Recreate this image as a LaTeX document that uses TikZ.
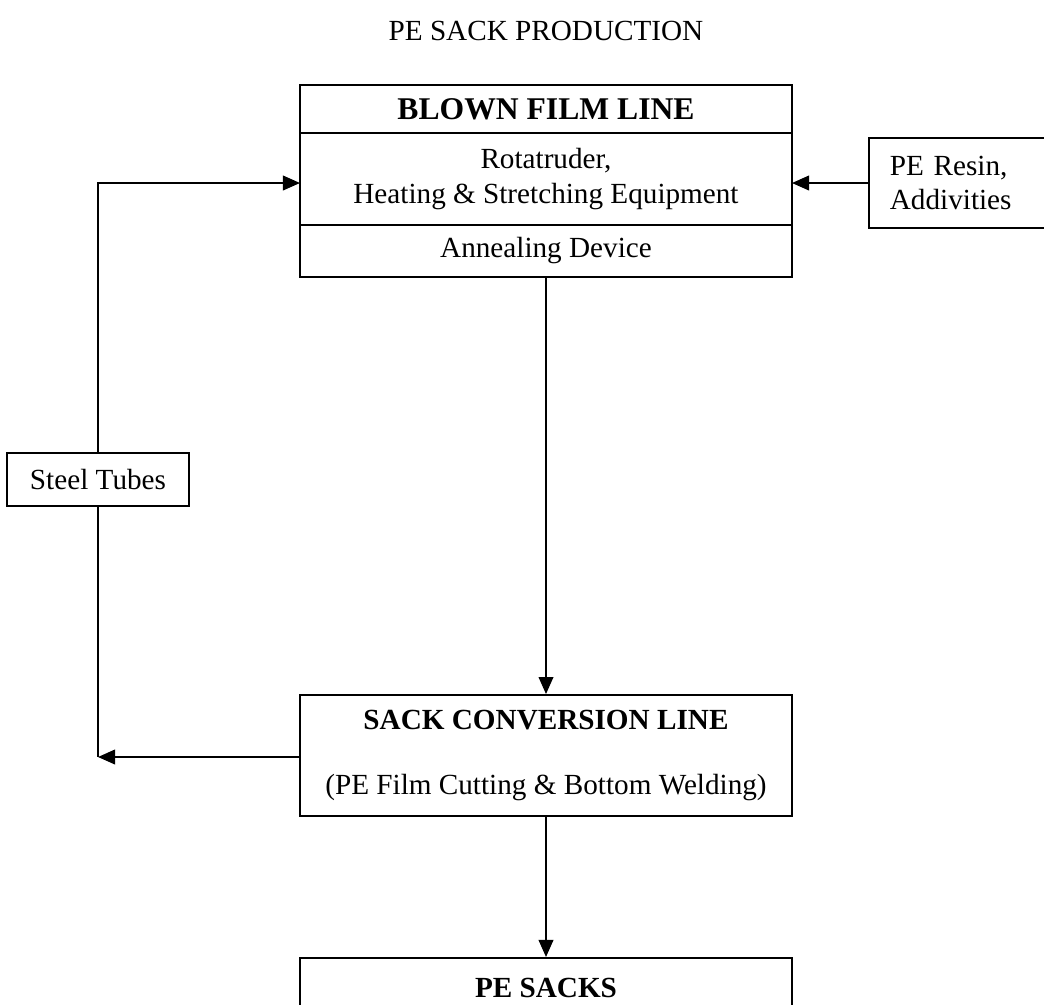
\documentclass[tikz,border=0pt]{standalone}
\usepackage{fontspec}
\setmainfont{Liberation Serif}
\usetikzlibrary{arrows.meta}
\begin{document}
\begin{tikzpicture}[x=0.411pt,y=-0.411pt,
  txt/.style={font=\fontsize{12}{14}\selectfont},
  box/.style={txt,draw,line width=0.8pt,inner sep=0pt,align=center},
  wide/.style={box,minimum width=202.2pt},
  cell/.style={txt,inner sep=0pt,outer sep=0pt,align=center,minimum width=202.2pt},
  flow/.style={line width=0.8pt,-{Triangle[length=7pt,width=6pt]}},
  link/.style={line width=0.8pt}]
\clip (0,0) rectangle (1044,1005);

% heading
\node[txt] (title) at (546,31) {PE SACK PRODUCTION};

% blown film line, three stacked compartments
\node[cell,anchor=north,minimum height=19.73pt,font=\fontsize{13}{15}\selectfont] (blown) at (546,85) {\textbf{BLOWN FILM LINE}};
\node[cell,anchor=north,minimum height=37.8pt] (equip) at (blown.south) {Rotatruder,\\Heating \& Stretching Equipment};
\node[cell,anchor=north,minimum height=21.4pt] (anneal) at (equip.south) {Annealing Device};
\draw[link] (blown.north west) rectangle (anneal.south east);
\draw[link] (equip.north west) -- (equip.north east);
\draw[link] (anneal.north west) -- (anneal.north east);

% raw material input
\node[box,anchor=north west,align=left,inner xsep=8.6pt,text width=60pt,minimum height=37pt] (resin) at (868,137) {PE Resin,\\Addivities};

% recycled tubes
\node[box,minimum width=74.8pt,minimum height=21.8pt] (steel) at (98,479.5) {Steel Tubes};
\coordinate (loopx) at (98,0);

% conversion line
\node[wide,minimum height=49.7pt] (conv) at (546,755.5) {\textbf{SACK CONVERSION LINE}\\[12.7pt](PE Film Cutting \& Bottom Welding)};

% final product
\node[wide,anchor=north,minimum height=24.7pt] (sacks) at (546,957) {\textbf{PE SACKS}};

% connectors
\draw[flow] (resin.west |- 0,183) -- (equip.east |- 0,183);
\draw[flow] (steel.north) |- (equip.west |- 0,183);
\draw[flow] (anneal.south) -- (conv.north);
\draw[flow] (conv.west |- 0,757) -- (loopx |- 0,757);
\draw[link] (steel.south) -- (loopx |- 0,757);
\draw[flow] (conv.south) -- (sacks.north);
\end{tikzpicture}
\end{document}
